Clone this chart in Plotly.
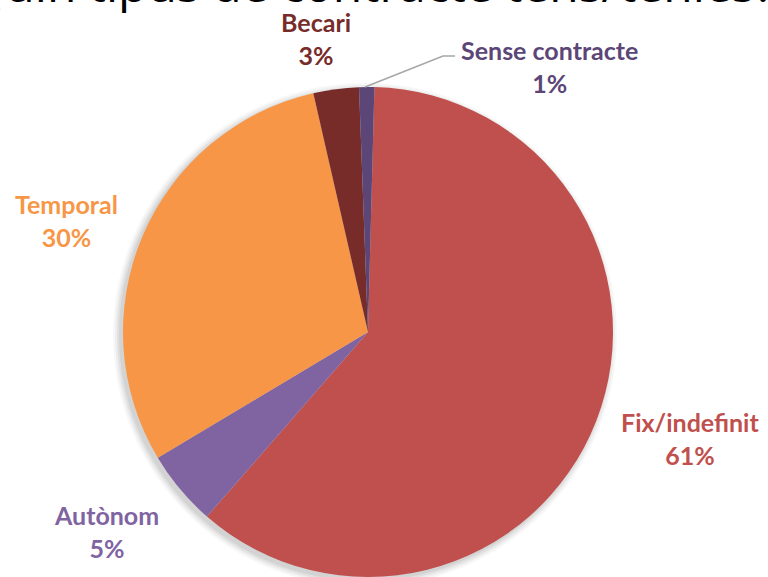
import plotly.graph_objects as go

W, H = 768, 577

# Contract types and their share of respondents (%)
labels = ["Fix/indefinit", "Autònom", "Temporal", "Becari", "Sense contracte"]
values = [61, 5, 30, 3, 1]
colors = ["#C0504D", "#8064A2", "#F79646", "#772C2A", "#5B4677"]
label_colors = ["#C0504D", "#8064A2", "#F79646", "#772C2A", "#5B4677"]

# Label anchor points in pixels (centre of the two-line label)
label_pos = [(690, 438), (106, 531), (66, 220), (316, 39), (549, 66)]

cx, cy, r = 368, 332, 245


def px(x):
    return x / W


def py(y):
    return 1 - y / H


fig = go.Figure()

fig.add_trace(go.Pie(
    labels=labels,
    values=values,
    sort=False,
    direction="clockwise",
    rotation=1.5,
    marker=dict(colors=colors, line=dict(width=0)),
    textinfo="none",
    hoverinfo="label+percent",
    showlegend=False,
    domain=dict(x=[px(cx - r), px(cx + r)], y=[py(cy + r), py(cy - r)]),
))

annotations = []
for lab, val, col, (lx, ly) in zip(labels, values, label_colors, label_pos):
    annotations.append(dict(
        x=px(lx), y=py(ly), xref="paper", yref="paper",
        text=f"<b>{lab}</b><br><b>{val}%</b>",
        showarrow=False, xanchor="center", yanchor="middle",
        align="center",
        font=dict(family="Lato", size=25, color=col),
    ))

# Title, partly above the top edge of the page
annotations.append(dict(
    x=px(371), y=py(-17), xref="paper", yref="paper",
    text="Quin tipus de contracte tens/tenies?",
    showarrow=False, xanchor="center", yanchor="middle",
    font=dict(family="Open Sans", size=48, color="#000000"),
))

shapes = []
# Soft drop shadow under the pie
for i, op in enumerate([0.06, 0.05, 0.04, 0.03]):
    rr = r + 1 + 2 * i
    sx, sy = cx - 3, cy + 3
    shapes.append(dict(
        type="circle", xref="paper", yref="paper", layer="below",
        x0=px(sx - rr), x1=px(sx + rr), y0=py(sy + rr), y1=py(sy - rr),
        fillcolor=f"rgba(0,0,0,{op})", line=dict(width=0),
    ))

# Leader line for the smallest slice
shapes.append(dict(
    type="path", xref="paper", yref="paper",
    path=f"M {px(365)} {py(87)} L {px(443)} {py(56)} L {px(455)} {py(56)}",
    line=dict(color="#A6A6A6", width=1.5),
))

fig.update_layout(
    width=W, height=H,
    margin=dict(l=0, r=0, t=0, b=0),
    paper_bgcolor="white",
    plot_bgcolor="white",
    annotations=annotations,
    shapes=shapes,
)

fig.write_html("out.html")
